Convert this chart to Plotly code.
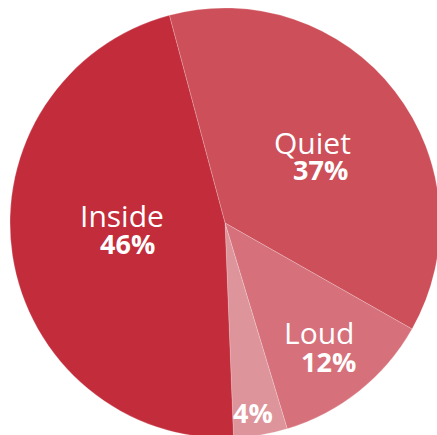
import plotly.graph_objects as go

# Slice data, listed clockwise from the Inside/Quiet boundary
categories = ["Quiet", "Loud", "", "Inside"]
shares = [37, 12, 4, 46]
pct_labels = ["37%", "12%", "4%", "46%"]
slice_colors = ["#CC4F59", "#D6707A", "#DD949A", "#C22C3B"]

# Canvas is a few pixels larger than the window so the pie runs off the right/bottom edges
W, H = 440, 438
CX, CY, R = 225, 223, 215
FONT = "Open Sans"

fig = go.Figure(
    go.Pie(
        labels=categories,
        values=shares,
        sort=False,
        direction="clockwise",
        rotation=-15,
        marker=dict(colors=slice_colors, line=dict(color="rgba(255,255,255,0.35)", width=0.6)),
        textinfo="none",
        hoverinfo="skip",
        showlegend=False,
        domain=dict(x=[(CX - R) / W, (CX + R) / W], y=[(H - CY - R) / H, (H - CY + R) / H]),
    )
)

# Label placement in pixels (centre x, centre y) for name and percentage lines
name_pos = {"Quiet": (312, 142), "Loud": (319, 332), "Inside": (122, 215)}
pct_pos = {"37%": (320, 170), "12%": (328, 361), "4%": (253, 412), "46%": (127, 243)}

annotations = []
for name in categories:
    if name in name_pos:
        px, py = name_pos[name]
        annotations.append(dict(
            x=px / W, y=1 - py / H, xref="paper", yref="paper",
            text=name, showarrow=False, xanchor="center", yanchor="middle",
            font=dict(family=FONT, size=30, color="white"),
        ))
for pct in pct_labels:
    px, py = pct_pos[pct]
    annotations.append(dict(
        x=px / W, y=1 - py / H, xref="paper", yref="paper",
        text=f"<b>{pct}</b>", showarrow=False, xanchor="center", yanchor="middle",
        font=dict(family=FONT, size=27, color="white"),
    ))

fig.update_layout(
    width=W,
    height=H,
    autosize=False,
    margin=dict(l=0, r=0, t=0, b=0),
    paper_bgcolor="white",
    plot_bgcolor="white",
    annotations=annotations,
)

fig.write_html(
    "out.html",
    config={"displayModeBar": False},
    post_script="document.documentElement.style.overflow='hidden';document.body.style.overflow='hidden';document.body.style.margin='0';",
)
